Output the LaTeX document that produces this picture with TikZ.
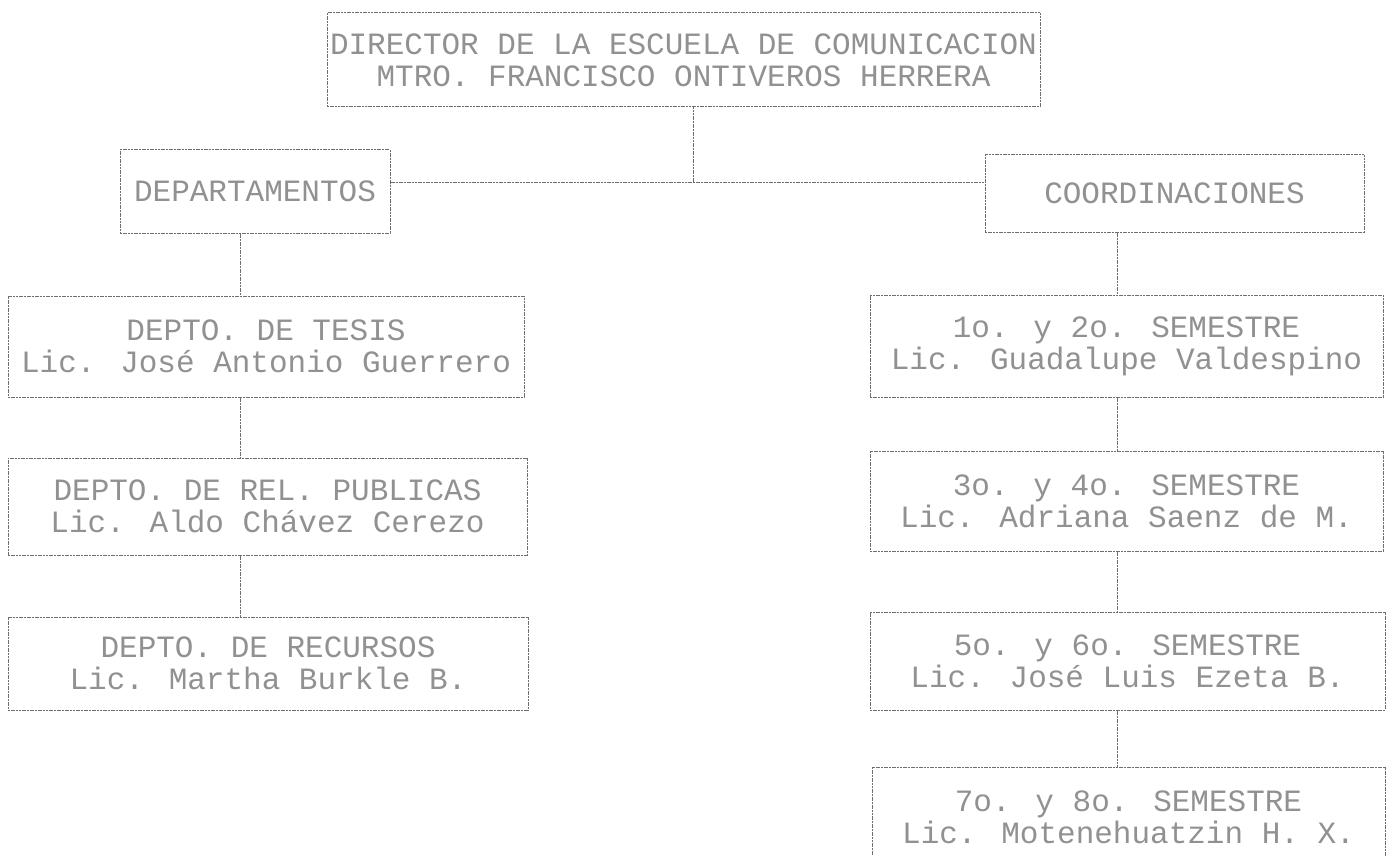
\documentclass[tikz,border=0pt]{standalone}
\usepackage{fontspec}
\setmainfont{Liberation Mono}
\usepackage{xcolor}
\definecolor{puntogris}{RGB}{145,145,145}
\definecolor{lineagris}{RGB}{110,110,110}

\begin{document}
\begin{tikzpicture}[x=1pt,y=-1pt,
		caja/.style={rectangle,
			draw=lineagris,
			line width=1pt,
			dash pattern=on 2pt off 0.7pt,
			inner sep=0pt,
			align=center,
			text=puntogris,
			font=\fontsize{31}{32}\selectfont},
		enlace/.style={draw=lineagris, line width=1pt, dash pattern=on 2pt off 0.7pt}]
	\useasboundingbox[fill=white] (0,0) rectangle (1395,856);

	% direccion
	\node[caja, minimum width=713pt, minimum height=94pt] (dir) at (683.5,60)
		{DIRECTOR DE LA ESCUELA DE COMUNICACION\\MTRO. FRANCISCO ONTIVEROS HERRERA};

	% ramas
	\node[caja, minimum width=270pt, minimum height=83pt] (dep) at (255,191.5) {DEPARTAMENTOS};
	\node[caja, minimum width=379pt, minimum height=77pt] (coord) at (1174.5,193.5) {COORDINACIONES};

	% departamentos
	\node[caja, minimum width=516pt, minimum height=101pt] (tesis) at (266,346.5)
		{DEPTO. DE TESIS\\Lic. José Antonio Guerrero};
	\node[caja, minimum width=519pt, minimum height=97pt] (relpub) at (267.5,506.5)
		{DEPTO. DE REL. PUBLICAS\\Lic. Aldo Chávez Cerezo};
	\node[caja, minimum width=520pt, minimum height=93pt] (recursos) at (268,663.5)
		{DEPTO. DE RECURSOS\\Lic. Martha Burkle B.};

	% coordinaciones
	\node[caja, minimum width=513pt, minimum height=102pt] (sem12) at (1126.5,346)
		{1o. y 2o. SEMESTRE\\Lic. Guadalupe Valdespino};
	\node[caja, minimum width=513pt, minimum height=100pt] (sem34) at (1126.5,501)
		{3o. y 4o. SEMESTRE\\Lic. Adriana Saenz de M.};
	\node[caja, minimum width=515pt, minimum height=98pt] (sem56) at (1127.5,661)
		{5o. y 6o. SEMESTRE\\Lic. José Luis Ezeta B.};
	\node[caja, minimum width=513pt, minimum height=100pt] (sem78) at (1128.5,817)
		{7o. y 8o. SEMESTRE\\Lic. Motenehuatzin H. X.};

	% lineas
	\coordinate (cruce) at (693,182);
	\coordinate (colizq) at (240,0);
	\coordinate (colder) at (1117,0);
	\draw[enlace] (dir.south -| cruce) -- (cruce);
	\draw[enlace] (dep.east |- cruce) -- (coord.west |- cruce);
	\draw[enlace] (dep.south -| colizq) -- (tesis.north -| colizq);
	\draw[enlace] (tesis.south -| colizq) -- (relpub.north -| colizq);
	\draw[enlace] (relpub.south -| colizq) -- (recursos.north -| colizq);
	\draw[enlace] (coord.south -| colder) -- (sem12.north -| colder);
	\draw[enlace] (sem12.south -| colder) -- (sem34.north -| colder);
	\draw[enlace] (sem34.south -| colder) -- (sem56.north -| colder);
	\draw[enlace] (sem56.south -| colder) -- (sem78.north -| colder);
\end{tikzpicture}
\end{document}
